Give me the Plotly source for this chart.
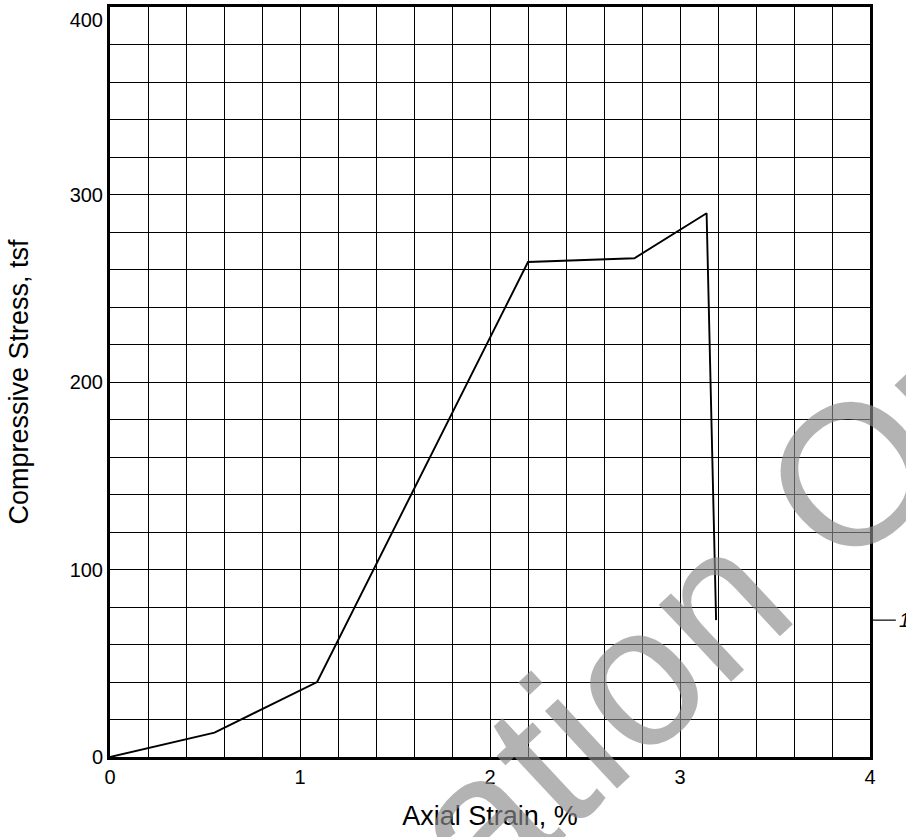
import plotly.graph_objects as go

# Stress-strain record for specimen 1
strain_pct = [0.0, 0.55, 1.09, 2.20, 2.76, 3.14, 3.19]
stress_tsf = [0, 13, 40, 264, 266, 290, 73]

x_ticks = [0, 1, 2, 3, 4]
y_ticks = [0, 100, 200, 300, 400]
curve_label = "1"

FONT = "Liberation Sans, Arial, Helvetica, sans-serif"

fig = go.Figure()

fig.add_trace(go.Scatter(
    x=strain_pct, y=stress_tsf, mode="lines",
    line=dict(color="black", width=1.9),
    showlegend=False, hoverinfo="skip",
))

axis_common = dict(
    showline=True, linecolor="black", linewidth=3, mirror=True,
    showgrid=True, gridcolor="black", gridwidth=1.4,
    zeroline=False, ticks="", automargin=False, ticklabeloverflow="allow",
    tickfont=dict(family=FONT, size=20, color="black"),
    title_font=dict(family=FONT, size=27, color="black"),
)

# the top label sits just under the frame so it stays on the page
y_text = [str(v) for v in y_ticks]
y_text[-1] = "<br>" + y_text[-1]

fig.update_xaxes(
    range=[0, 4], tickvals=x_ticks, ticktext=[str(v) for v in x_ticks],
    minor=dict(dtick=0.2, showgrid=True, gridcolor="black", gridwidth=1.4),
    title_text="Axial Strain, %", title_standoff=20,
    **axis_common,
)
fig.update_yaxes(
    range=[0, 400], tickvals=y_ticks, ticktext=y_text,
    minor=dict(dtick=20, showgrid=True, gridcolor="black", gridwidth=1.4),
    title_text="Compressive Stress, tsf", title_standoff=34,
    **axis_common,
)

# Curve number tag at the right-hand edge, level with the end of the curve
fig.add_shape(type="line", xref="paper", yref="y",
              x0=1.004, x1=1.034, y0=stress_tsf[-1], y1=stress_tsf[-1],
              line=dict(color="black", width=1.2))
fig.add_annotation(xref="paper", yref="y", x=1.036, y=stress_tsf[-1],
                   text="<i>" + curve_label + "</i>", showarrow=False,
                   xanchor="left", yanchor="middle",
                   font=dict(family=FONT, size=20, color="black"))

# Diagonal watermark
fig.add_annotation(xref="paper", yref="paper", x=0.421, y=-0.147,
                   xanchor="center", yanchor="middle",
                   text="For Information Only", showarrow=False,
                   textangle=-43, opacity=0.65,
                   font=dict(family=FONT, size=200, color="#8c8c8c"))

fig.update_layout(
    width=906, height=837,
    margin=dict(l=110, r=36, t=7, b=80),
    paper_bgcolor="white", plot_bgcolor="white",
    showlegend=False,
)

fig.write_html("out.html")
